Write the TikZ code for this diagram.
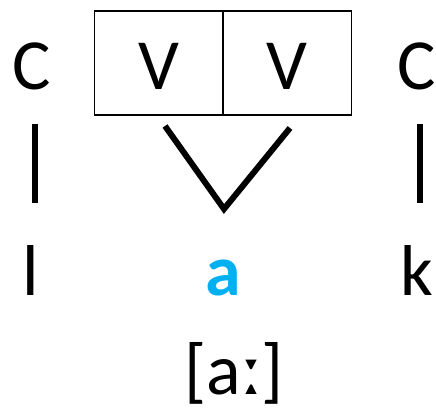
\documentclass[tikz,border=0pt]{standalone}
\usepackage{fontspec}
\setmainfont{Carlito}
\definecolor{vblue}{HTML}{00B0F0}
\begin{document}
\begin{tikzpicture}[x=1pt,y=-1pt,
  lab/.style={inner sep=0pt,anchor=base,font=\fontsize{72}{80}\selectfont},
  assoc/.style={line width=6pt},
  slot/.style={draw,line width=1.8pt,minimum width=128.5pt,minimum height=104pt,inner sep=0pt}]
\useasboundingbox (0,0) rectangle (436,410);
\node[slot] (v1) at (158.75,63) {};
\node[slot] (v2) at (287.25,63) {};
\node[lab] (c1) at (32,89) {C};
\node[lab] (c2) at (417,89) {C};
\node[lab] at (v1.center |- 0,89) (vt1) {V};
\node[lab] at (v2.center |- 0,89) (vt2) {V};
\node[lab] (l) at (31,295) {l};
\node[lab,text=vblue,font=\fontsize{72}{80}\selectfont\bfseries] (a) at (223,295) {a};
\node[lab] (k) at (417,295) {k};
\node[lab] (ph) at (234,394) {[aː]};
\coordinate (c1b) at (35,124);
\coordinate (l1t) at (35,203);
\coordinate (c2b) at (420,124);
\coordinate (k1t) at (420,203);
\coordinate (vl) at (165,126);
\coordinate (vb) at (224,209);
\coordinate (vr) at (290,128);
\draw[assoc] (c1b) -- (l1t);
\draw[assoc] (c2b) -- (k1t);
\draw[assoc] (vl) -- (vb) -- (vr);
\end{tikzpicture}
\end{document}
